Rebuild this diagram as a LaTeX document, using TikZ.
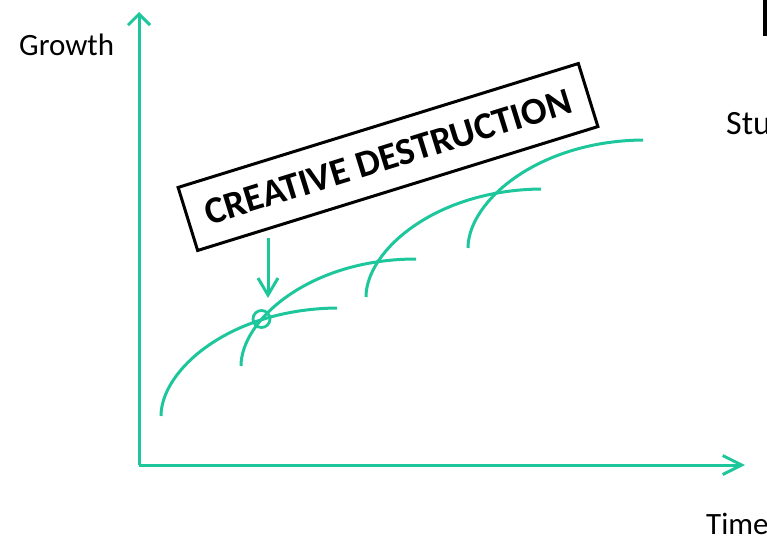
\documentclass[tikz,border=0pt]{standalone}
\usepackage{fontspec}
\setmainfont{Carlito}
\usetikzlibrary{arrows.meta}
\definecolor{teal1}{RGB}{30,198,155}
\tikzset{
  axis/.style={draw=teal1, line width=3pt},
  curve/.style={draw=teal1, line width=3pt},
  label/.style={font=\fontsize{31}{34}\selectfont, anchor=base west, inner sep=0pt},
  banner/.style={draw=black, line width=3pt, minimum width=419pt, minimum height=66pt, inner sep=0pt,
     font=\bfseries\fontsize{38}{40}\selectfont, rotate=17.2},
}
\begin{document}
\begin{tikzpicture}[x=1pt,y=-1pt]
\useasboundingbox (0,0) rectangle (767,538);
% axes
\coordinate (O) at (139,465);
\coordinate (Ytop) at (139,12);
\coordinate (Xend) at (745,465);
\draw[axis, -{Straight Barb[length=11pt,width=22pt]}] (O) -- (Ytop);
\draw[axis, -{Straight Barb[length=19pt,width=19pt]}] (O) -- (Xend);
% labels
\node[label] (growth) at (19,55) {Growth};
\node[label] (time) at (706,534) {Time};
\node[label, font=\fontsize{34}{36}\selectfont] (stu) at (726,134) {Stu};
\fill[black] (763,0) rectangle (767,36);
% curves
\draw[curve] (161,416) .. controls (161,370) and (230,309) .. (337,308);
\draw[curve] (241,366) .. controls (241,320) and (310,259) .. (416,259);
\draw[curve] (366,297) .. controls (366,251) and (435,190) .. (541,189);
\draw[curve] (468,248) .. controls (468,202) and (537,141) .. (643,140);
% circle and callout
\node[draw=teal1, line width=2.8pt, circle, minimum size=17pt, inner sep=0pt] (c) at (261.5,319) {};
\node[banner] (box) at (388,157) {CREATIVE DESTRUCTION};
\coordinate (a1) at (268,238);
\coordinate (a2) at (268,298);
\draw[curve, -{Straight Barb[length=17pt,width=20pt]}] (a1) -- (a2);
\end{tikzpicture}
\end{document}
